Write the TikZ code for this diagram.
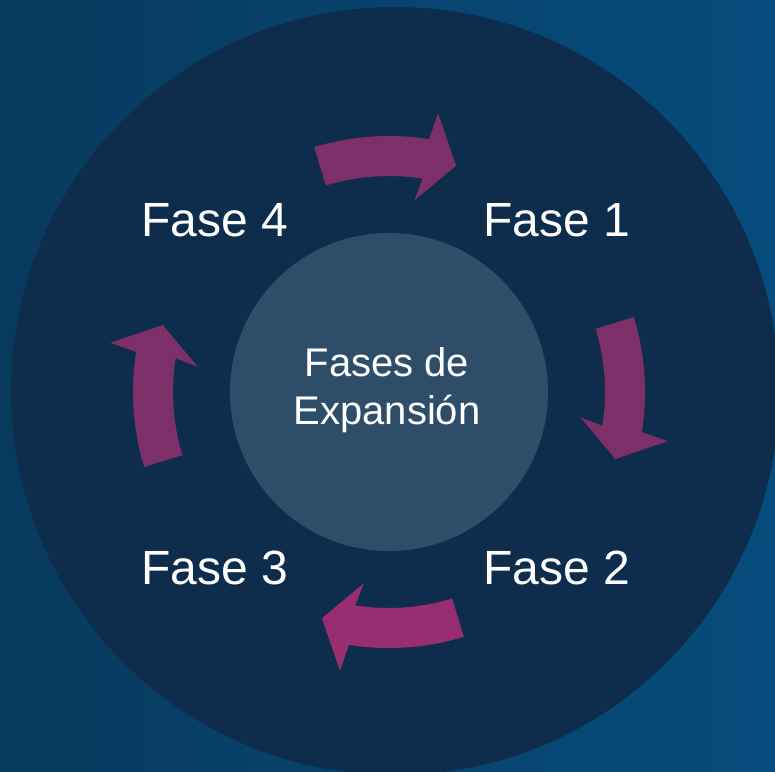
\documentclass[tikz,border=0pt]{standalone}
\usepackage{fontspec}
\setmainfont{Liberation Sans}
\definecolor{bgA}{HTML}{083A5E}
\definecolor{bgB}{HTML}{064C7C}
\definecolor{ringcol}{HTML}{0E2D4D}
\definecolor{hubcol}{HTML}{2E4D69}
\definecolor{arrowA}{HTML}{7D2F67}
\definecolor{arrowB}{HTML}{982E70}
\tikzset{
  phase/.style={anchor=base west, inner sep=0pt, text=white, font=\fontsize{48}{56}\selectfont},
  hubtext/.style={anchor=base, inner sep=0pt, text=white, font=\fontsize{40}{47}\selectfont},
}
\begin{document}
\begin{tikzpicture}[x=1pt,y=1pt]
\useasboundingbox (0,0) rectangle (775,771);
\fill[left color=bgA, right color=bgB] (0,0) rectangle (775,771);
\node[circle, fill=ringcol, minimum size=768pt, inner sep=0pt] (ring) at (395,380) {};
\node[circle, fill=hubcol, minimum size=318pt, inner sep=0pt] (hub) at (389,379) {};
\begin{scope}[shift={(389,379)}]
\foreach \t/\c in {90/arrowA, 0/arrowA, -90/arrowB, 180/arrowA} {
  \pgfmathsetmacro{\ta}{\t+17}
  \pgfmathsetmacro{\tb}{\t-9}
  \pgfmathsetmacro{\tc}{\t-10}
  \pgfmathsetmacro{\td}{\t-16.5}
  \pgfmathsetmacro{\te}{\t-7.5}
  \fill[\c] (\ta:256pt) arc[start angle=\ta, end angle=\tb, radius=256pt]
    -- (\tc:283pt) -- (\td:236pt) -- (\te:193pt) -- (\tb:216pt)
    arc[start angle=\tb, end angle=\ta, radius=216pt] -- cycle;
}
\end{scope}
\node[phase] (f4) at (141,534) {Fase 4};
\node[phase] (f1) at (483,534) {Fase 1};
\node[phase] (f3) at (141,187) {Fase 3};
\node[phase] (f2) at (483,187) {Fase 2};
\node[hubtext] (t1) at (387,394) {Fases de};
\node[hubtext] (t2) at (387,346) {Expansión};
\end{tikzpicture}
\end{document}
